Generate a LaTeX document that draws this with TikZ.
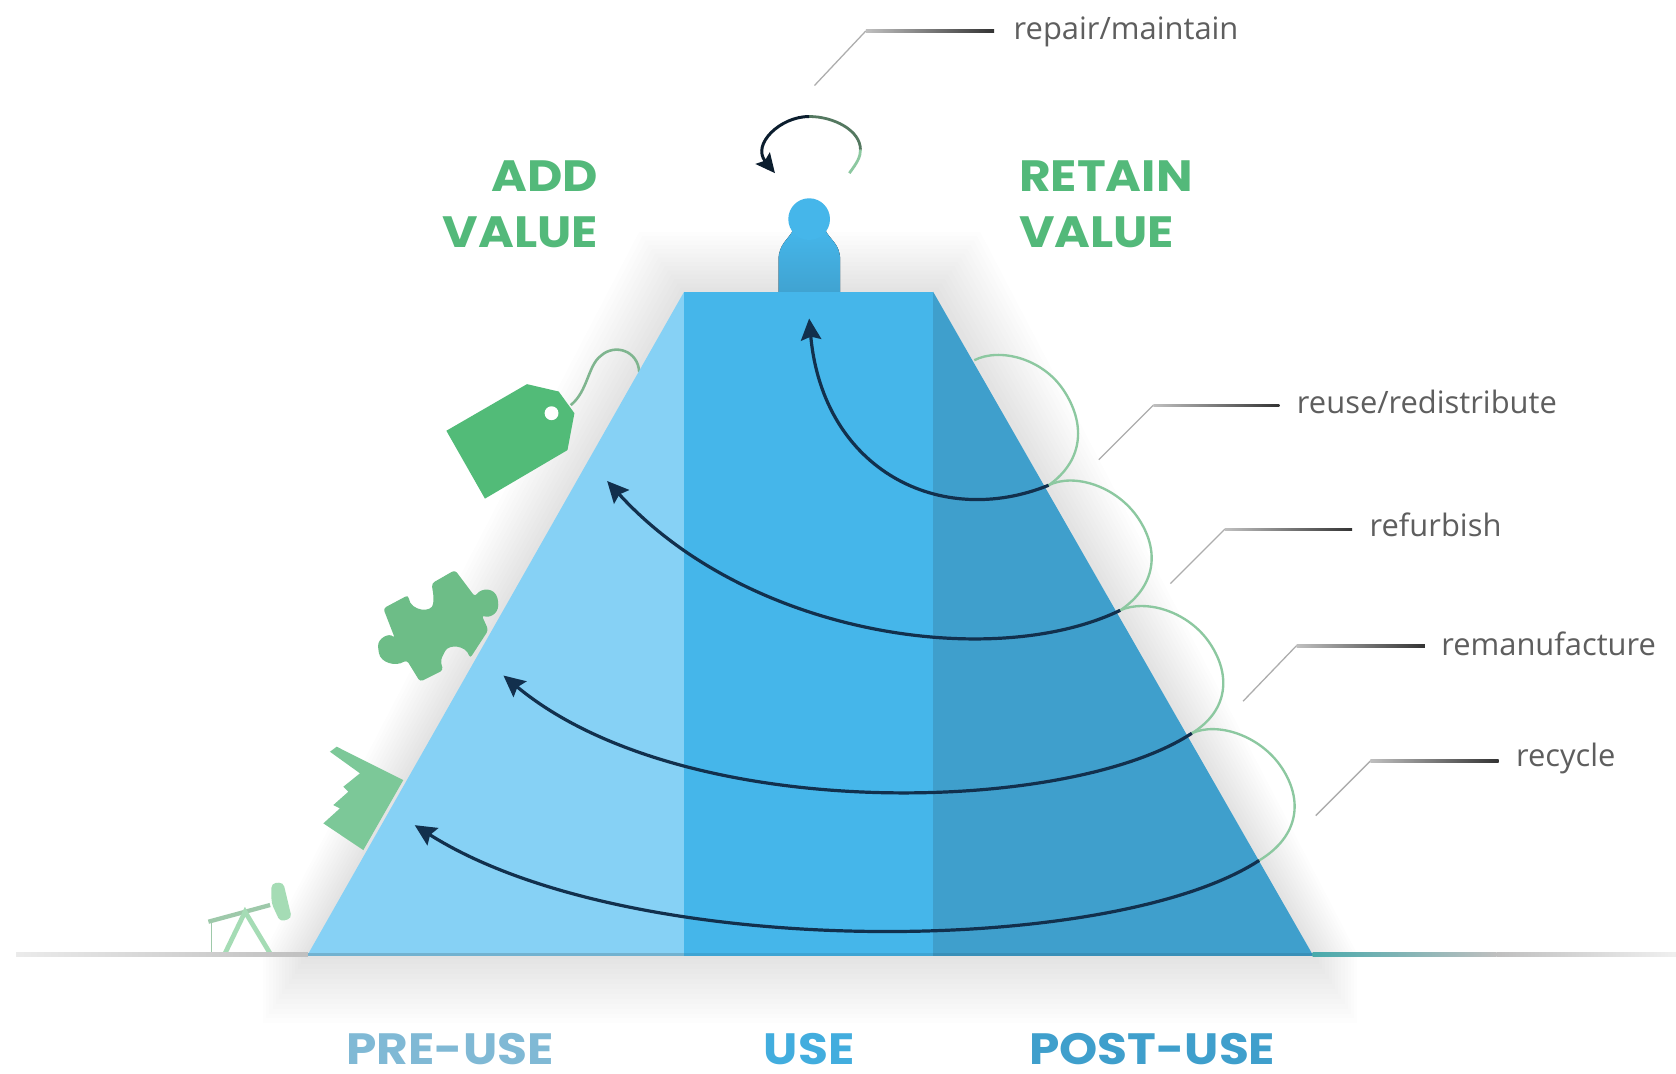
\documentclass[tikz,border=0pt]{standalone}
\usepackage{fontspec}
\setmainfont{Open Sans}
\newfontfamily\titlefont[FakeStretch=1.11]{Poppins}
\usetikzlibrary{arrows.meta}
\definecolor{pyrlight}{HTML}{86D1F5}
\definecolor{pyrmid}{HTML}{45B6EA}
\definecolor{pyrdark}{HTML}{3F9FCC}
\definecolor{navyline}{HTML}{12304D}
\definecolor{titlegreen}{HTML}{53B97A}
\definecolor{taggreen}{HTML}{52BB78}
\definecolor{puzzlegreen}{HTML}{6DBD87}
\definecolor{handgreen}{HTML}{7CC898}
\definecolor{pumpgreen}{HTML}{A5DCB5}
\definecolor{loopgreen}{HTML}{8CC8A0}
\definecolor{stringgreen}{HTML}{7FB58F}
\definecolor{labelgray}{HTML}{5E5E5E}
\tikzset{
  flow/.style={draw=navyline,line width=1.5pt,-{Stealth[length=10pt,width=9.5pt,inset=1.5pt]}},
  looparc/.style={draw=loopgreen,line width=1.1pt},
  leader/.style={draw=black!32,line width=.6pt},
  leaderbar/.style={left color=black!25,right color=black!80,draw=none},
  lifelabel/.style={font=\fontsize{14.45}{18}\selectfont,text=labelgray,inner sep=0pt,anchor=west},
  valuetitle/.style={font=\titlefont\bfseries\fontsize{20.5}{26}\selectfont,text=titlegreen,inner sep=0pt},
  phasetitle/.style={font=\titlefont\bfseries\fontsize{20.5}{26}\selectfont,inner sep=0pt},
}
\begin{document}
\begin{tikzpicture}[x=0.5pt,y=-0.5pt]
\useasboundingbox[fill=white] (0,0) rectangle (1568,1004.7);

% soft shadow round the pyramid
\foreach \k in {1,...,14}{
  \fill[black,opacity=.006]
    ({640-\k*3},{273-\k*4}) -- ({875+\k*3},{273-\k*4})
    -- ({1228+\k*3},{893}) -- ({288-\k*3},{893}) -- cycle;
  \fill[black,opacity=.009]
    ({288-\k*3},893) rectangle ({1228+\k*3},{893+\k*4.6});
}

% icons on the left flank
\coordinate (stringstart) at (534,379);
\coordinate (stringend) at (598,348);
\draw[stringgreen,line width=1.2pt] (stringstart)
  .. controls (550,366) and (550,342) .. (562,333)
  .. controls (575,321) and (597,328) .. (stringend);
\fill[taggreen] (417.6,403) -- (493,359.4) -- (522.7,366.3)
  -- (537.4,386.6) -- (530.9,421.1) -- (453.7,466.5) -- cycle;
\fill[white] (516,386.6) circle (6.5);

\fill[puzzlegreen,rounded corners=1.5pt] (358.6,569.2) -- (382,556.7)
  .. controls (384,572) and (405,574) .. (405.4,561.4)
  .. controls (405.5,556) and (404.5,551) .. (403.9,545.8)
  -- (425.7,533.3) -- (444.4,558.3)
  .. controls (450,550) and (463,549) .. (466.2,563)
  .. controls (466,576) and (456,578) .. (450.6,575.4)
  -- (456.9,589.5) -- (439.7,616)
  .. controls (436,604) and (420,602) .. (415,612)
  .. controls (412,618) and (413,622) .. (414.8,626.9)
  -- (393,637.8) -- (380.5,617.5)
  .. controls (370,624) and (356,620) .. (354,608)
  .. controls (353,597) and (364,592) .. (369.5,597.3)
  -- cycle;

\fill[handgreen] (308.7,703.3) -- (315,698.6) -- (377.3,729.8) -- (339.9,795.3) -- (302.5,770.3)
  -- (318,756.3) -- (311.8,753.2) -- (325.9,740.7) -- (321.2,736) -- (336.8,723.5) -- cycle;

\draw[pumpgreen!80!gray,line width=.8pt] (198,893) -- (198,862);
\draw[pumpgreen!80!gray,line width=2pt] (195,862.3) -- (252.7,846.7);
\draw[pumpgreen,line width=2.2pt] (210.5,892) -- (229.3,853) -- (252.7,892);
\fill[pumpgreen,rounded corners=2pt] (254,826.4) -- (265,825.5) -- (273,859) -- (262,862.3) -- (254,845) -- cycle;

% person on top
\fill[top color=pyrmid,bottom color=pyrdark!85!pyrmid]
  (728.4,275) -- (728.4,243) .. controls (728.4,228) and (738,224) .. (742,215)
  -- (772,215) .. controls (776,224) and (786,228) .. (786,243) -- (786,275) -- cycle;
\fill[pyrmid] (757,205) circle (19.5);

% pyramid
\fill[pyrlight] (288,893) -- (640,273) -- (640,893) -- cycle;
\fill[pyrmid] (640,273) rectangle (873,893);
\fill[pyrdark] (873,273) -- (1228,893) -- (873,893) -- cycle;

% ground line
\shade[left color=black!8,right color=black!25,draw=none] (15,891.5) rectangle (288,894.5);
\fill[pyrlight!85!black] (288,892) rectangle (640,894.5);
\fill[pyrmid!90!black] (640,892) rectangle (873,894.5);
\fill[pyrdark!90!black] (873,892) rectangle (1228,894.5);
\shade[left color=pyrdark!60!titlegreen,right color=black!25,draw=none] (1228,891.5) rectangle (1400,894.5);
\shade[left color=black!25,right color=black!6,draw=none] (1400,891.5) rectangle (1568,894.5);

% green loops
\coordinate (p0) at (911.5,337);
\coordinate (p1) at (981,454);
\coordinate (p2) at (1048,571);
\coordinate (p3) at (1115,686);
\coordinate (p4) at (1178,805);
\draw[looparc] (p0) .. controls (935,325) and (975,335) .. (995,365)
  .. controls (1015,395) and (1015,430) .. (p1);
\draw[looparc] (p1) .. controls (1005,442) and (1045,455) .. (1065,485)
  .. controls (1085,515) and (1082,548) .. (p2);
\draw[looparc] (p2) .. controls (1072,560) and (1112,572) .. (1132,602)
  .. controls (1152,632) and (1149,665) .. (p3);
\draw[looparc] (p3) .. controls (1139,675) and (1179,688) .. (1199,718)
  .. controls (1219,748) and (1216,782) .. (p4);

% flow arrows
\draw[flow] (p1) .. controls (880,495) and (770,440) .. (757,298);
\draw[flow] (p2) .. controls (930,628) and (700,595) .. (568,450);
\draw[flow] (p3) .. controls (1000,762) and (640,772) .. (471,632);
\draw[flow] (p4) .. controls (1040,895) and (590,900) .. (388,772);

% repair loop
\coordinate (r0) at (794.6,162);
\coordinate (r1) at (805,140);
\coordinate (r2) at (757,109);
\coordinate (r3) at (725,162);
\draw[draw=loopgreen,line width=1.3pt] (r0) .. controls (802,152) and (805,147) .. (r1);
\draw[draw=loopgreen!60!black,line width=1.3pt] (r1) .. controls (805,122) and (780,109) .. (r2);
\draw[draw=navyline!60!black,line width=1.4pt,-{Stealth[length=9pt,width=8.5pt,inset=1.5pt]}]
  (r2) .. controls (730,109) and (703,135) .. (r3);

% labels
\node[lifelabel] (repair) at (948,30) {repair/maintain};
\node[lifelabel] (reuse) at (1213,376) {reuse/redistribute};
\node[lifelabel] (refurb) at (1281,491) {refurbish};
\node[lifelabel] (reman) at (1348,602) {remanufacture};
\node[lifelabel] (recyc) at (1418,710) {recycle};

\coordinate (e1) at (810,29);   \coordinate (s1) at (762,80);
\coordinate (e2) at (1079,379); \coordinate (s2) at (1028,430);
\coordinate (e3) at (1146,495); \coordinate (s3) at (1095,546);
\coordinate (e4) at (1213,604); \coordinate (s4) at (1163,656);
\coordinate (e5) at (1282,712); \coordinate (s5) at (1231,763);
\draw[leader] (s1) -- (e1);
\draw[leader] (s2) -- (e2);
\draw[leader] (s3) -- (e3);
\draw[leader] (s4) -- (e4);
\draw[leader] (s5) -- (e5);
\shade[leaderbar] (810,28) rectangle (930,30.5);
\shade[leaderbar] (1079,378) rectangle (1197,380.5);
\shade[leaderbar] (1146,494) rectangle (1265,496.5);
\shade[leaderbar] (1213,603) rectangle (1333,605.5);
\shade[leaderbar] (1282,711) rectangle (1402,713.5);

% titles
\node[valuetitle,anchor=east] (add) at (560,165) {ADD};
\node[valuetitle,anchor=east] (addv) at (560,217) {VALUE};
\node[valuetitle,anchor=west] (ret) at (953,165) {RETAIN};
\node[valuetitle,anchor=west] (retv) at (953,217) {VALUE};
\node[phasetitle,text=pyrlight!85!black!90] (pre) at (421,981) {PRE-USE};
\node[phasetitle,text=pyrmid!95!black] (use) at (757,981) {USE};
\node[phasetitle,text=pyrdark] (post) at (1078,981) {POST-USE};
\end{tikzpicture}
\end{document}
